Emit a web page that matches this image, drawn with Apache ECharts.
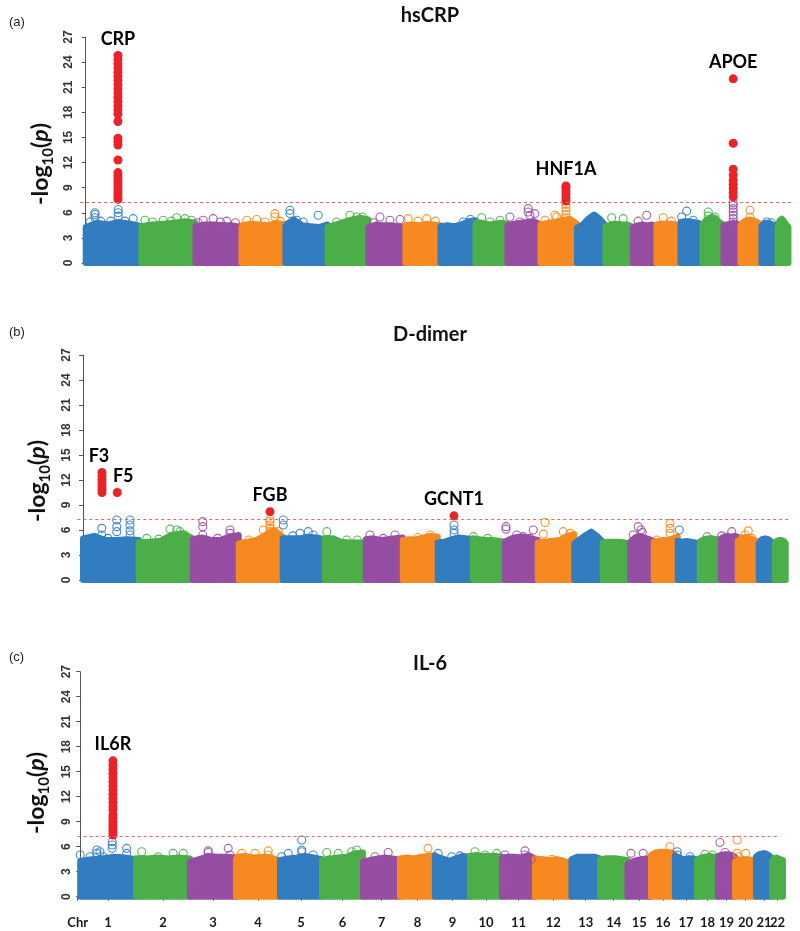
<!DOCTYPE html>
<html><head><meta charset="utf-8">
<script src="https://cdn.jsdelivr.net/npm/echarts@6/dist/echarts.min.js"></script>
<style>html,body{margin:0;padding:0;background:#fff}#c{width:800px;height:931px}</style>
</head><body><div id="c"></div>
<script>
// ---------------- data ----------------
const chrNames = ['1','2','3','4','5','6','7','8','9','10','11','12','13','14','15','16','17','18','19','20','21','22'];
// plotted extent of each chromosome (Mb)
const chrLenMb = [223,216,184,176,168,164,148,140,140,128,132,146,114,110,94,96,88,84,68,84,64,44];
const yTicks = [0,3,6,9,12,15,18,21,24,27];
const sigLine = 7.3;

// top of the dense bulk of SNPs, sampled evenly across each chromosome (-log10 p)
const envA = [
 [4.3,4.8,4.6,4.9,4.7,4.4],[4.4,4.6,4.7,4.8,5.0,4.8],[4.4,4.6,4.6,4.5,4.5,4.3],[4.5,4.7,4.6,4.5,4.8,4.6],
 [4.6,5.2,4.5,4.4,4.3,4.6],[4.3,4.6,4.9,5.2,5.4,5.2],[4.3,4.6,4.5,4.5,4.4,4.3],[4.5,4.6,4.5,4.7,4.6,4.5],
 [4.4,4.5,4.4,4.6,5.0,5.1],[4.9,4.8,4.6,4.7,4.8,4.7],[4.5,4.7,4.8,4.9,5.0,4.6],[4.6,4.8,4.9,5.1,5.3,4.7],
 [4.2,4.6,5.3,5.8,5.3,4.5],[4.4,4.6,4.7,4.6,4.6,4.3],[4.3,4.5,4.6,4.5,4.6,4.4],[4.6,4.7,4.7,4.7,4.6,4.5],
 [4.9,5.0,5.0,4.9,4.8,4.6],[4.6,5.2,5.5,5.4,4.9,4.6],[4.5,4.6,4.7,4.8,4.7,4.5],[4.6,5.0,5.2,5.1,4.9,4.6],
 [4.4,4.8,4.8,4.7,4.5,4.2],[4.4,5.1,5.3,5.0,4.6,4.3]
];
const envB = [
 [5.0,5.3,4.8,4.8,4.9,4.8],[4.5,4.6,4.7,5.4,5.6,5.0],[4.9,5.1,4.8,4.8,5.2,5.4],[4.4,4.6,4.8,5.4,6.0,5.2],
 [5.0,5.0,5.0,5.2,5.1,4.9],[5.0,5.0,4.6,4.5,4.5,4.5],[4.9,5.0,4.8,4.9,5.0,5.1],[4.8,4.9,4.9,5.1,5.3,5.2],
 [4.5,4.6,4.9,5.1,5.0,4.9],[5.0,4.9,4.8,4.8,4.7,4.6],[4.6,5.0,5.2,5.2,5.0,4.8],[4.5,4.6,4.7,4.8,5.3,5.5],
 [4.4,4.9,5.4,5.8,5.3,4.6],[4.5,4.6,4.6,4.6,4.5,4.3],[4.6,5.1,5.3,5.1,4.9,4.7],[4.6,4.7,4.8,4.8,5.0,5.2],
 [4.7,4.6,4.7,4.6,4.5,4.4],[4.6,4.9,5.0,5.0,4.9,4.6],[5.0,5.2,5.3,5.2,5.3,5.2],[4.7,5.0,5.2,5.0,4.8,4.6],
 [4.4,4.9,5.0,4.9,4.6,4.3],[4.4,4.7,4.8,4.8,4.7,4.4]
];
const envC = [
 [4.3,4.5,4.6,4.8,4.7,4.5],[4.6,4.6,4.7,4.6,4.7,4.6],[4.2,4.5,4.9,4.8,4.8,4.7],[4.8,4.9,4.7,4.8,4.7,4.3],
 [4.4,4.6,4.7,4.9,4.7,4.5],[4.4,4.6,4.7,4.8,5.2,5.3],[4.2,4.4,4.6,4.7,4.6,4.4],[4.6,4.7,4.6,4.8,4.9,5.0],
 [4.9,4.6,4.3,4.6,4.9,4.8],[4.9,5.0,4.9,4.9,4.9,4.8],[4.7,4.8,4.8,4.7,5.0,4.6],[4.6,4.5,4.4,4.5,4.3,4.0],
 [4.5,4.8,4.8,4.8,4.8,4.6],[4.5,4.6,4.6,4.6,4.5,4.4],[3.9,4.2,4.4,4.5,4.6,4.5],[5.0,5.3,5.4,5.4,5.3,5.1],
 [4.9,4.7,4.5,4.6,4.6,4.5],[4.5,4.7,4.8,4.9,4.8,4.7],[4.9,5.0,5.1,5.1,5.0,4.8],[4.2,4.4,4.5,4.5,4.4,4.3],
 [4.8,5.1,5.2,5.2,5.0,4.6],[4.3,4.6,4.7,4.6,4.5,4.4]
];

// individual SNPs standing above the bulk: [chromosome, position in chromosome (Mb), -log10 p]
const ringsA = [
 [1,17,4.9],[1,37,5.4],[1,37,5.8],[1,37,6.0],[1,60,5.0],[1,100,5.0],[1,130,5.6],[1,130,6.0],[1,130,6.4],[1,157,5.0],[1,190,5.3],
 [2,14,5.1],[2,45,4.9],[2,87,5.1],[2,120,5.0],[2,141,5.4],[2,174,5.3],[2,200,5.1],
 [3,10,4.8],[3,31,5.1],[3,71,5.3],[3,100,4.9],[3,125,5.0],[3,160,4.8],
 [4,21,5.1],[4,61,5.2],[4,95,4.9],[4,134,5.5],[4,134,5.9],[4,155,5.0],
 [5,18,5.9],[5,18,6.3],[5,45,5.1],[5,71,4.9],[5,131,5.7],
 [6,37,4.9],[6,90,5.7],[6,117,5.5],[6,140,5.5],
 [7,20,4.8],[7,46,5.5],[7,86,5.1],[7,126,5.2],
 [8,11,5.3],[8,50,5.0],[8,85,5.3],[8,120,5.0],
 [9,91,4.9],[9,120,5.2],
 [10,25,5.4],[10,58,4.9],[10,98,5.1],
 [11,10,5.5],[11,50,4.9],[11,83,6.1],[11,83,6.5],[11,90,5.7],[11,110,5.9],
 [12,18,5.1],[12,58,5.7],[12,65,5.5],[12,102,5.4],[12,102,5.8],[12,102,6.2],[12,102,6.6],[12,102,7.0],
 [14,25,5.4],[14,71,5.3],
 [15,21,5.0],[15,55,5.7],
 [16,27,5.4],[16,60,5.0],
 [17,5,5.5],[17,25,6.2],[17,51,5.1],
 [18,23,5.6],[18,23,6.1],[18,50,5.5],
 [19,39,4.9],[19,39,5.3],[19,39,5.7],[19,39,6.1],[19,39,6.5],[19,39,6.9],[19,39,7.2],
 [20,38,5.5],[20,38,6.3],
 [21,21,4.9],[21,40,4.8]
];
const ringsB = [
 [1,75,5.4],[1,75,6.2],[1,100,5.0],[1,135,5.8],[1,135,6.4],[1,135,7.2],[1,188,5.4],[1,188,5.9],[1,188,6.6],[1,188,7.2],
 [2,32,5.0],[2,80,4.9],[2,125,6.1],[2,152,6.0],[2,165,5.8],[2,185,5.4],
 [3,40,5.4],[3,40,6.4],[3,40,7.0],[3,100,5.0],[3,149,5.6],[3,149,6.0],
 [4,40,4.8],[4,98,6.0],[4,125,5.8],[4,125,6.2],[4,125,6.6],[4,125,7.0],[4,125,7.3],[4,158,5.8],
 [5,2,6.6],[5,2,7.2],[5,40,5.3],[5,69,5.6],[5,102,5.8],[5,122,5.4],
 [6,8,5.8],[6,88,4.8],[6,130,4.8],
 [7,17,5.4],[7,70,5.0],[7,117,5.4],
 [8,60,5.1],[8,110,5.4],
 [9,65,5.6],[9,65,6.0],[9,65,6.6],
 [10,2,5.2],[10,60,5.0],
 [11,5,6.1],[11,5,6.4],[11,48,5.4],[11,74,5.2],[11,101,5.0],[11,114,6.0],
 [12,22,5.5],[12,29,6.9],[12,102,5.8],[12,130,5.6],
 [15,12,5.4],[15,32,6.4],[15,43,6.0],[15,48,5.7],
 [16,12,4.8],[16,65,5.6],[16,65,6.2],[16,65,6.8],
 [17,6,6.0],
 [18,30,5.2],
 [19,4,5.3],[19,44,5.8],
 [20,16,4.9],[20,29,5.4],[20,42,5.9],[20,56,5.0]
];
const ringsC = [
 [1,0,5.0],[1,40,4.8],[1,66,5.2],[1,66,5.6],[1,79,5.4],[1,92,4.8],[1,128,5.8],[1,128,6.2],[1,128,6.6],[1,152,4.6],[1,186,5.2],[1,186,5.8],
 [2,23,5.4],[2,89,4.8],[2,149,5.2],[2,189,5.2],
 [3,73,5.3],[3,73,5.5],[3,153,5.8],[3,160,5.0],
 [4,23,5.2],[4,76,5.2],[4,129,5.0],[4,129,5.5],
 [5,7,4.8],[5,33,5.2],[5,87,5.4],[5,87,5.6],[5,87,6.8],[5,133,5.0],
 [6,19,5.3],[6,65,5.2],[6,119,5.4],[6,139,5.6],
 [7,48,4.8],[7,101,5.3],
 [8,112,5.8],
 [9,13,5.2],[9,67,4.8],[9,100,4.9],
 [10,20,5.4],[10,60,5.0],[10,107,5.2],
 [11,12,5.0],[11,92,5.0],[11,92,5.5],[11,116,4.5],
 [12,67,4.5],
 [15,14,5.2],[15,63,5.2],
 [16,76,6.0],
 [17,9,5.0],[17,9,5.4],[17,60,4.8],
 [18,32,5.1],[18,61,5.0],
 [19,8,6.5],[19,28,5.3],
 [20,9,5.2],[20,9,6.8],[20,13,4.8],[20,43,5.2]
];

// genome-wide significant loci: [gene, chromosome, position (Mb), -log10 p values]
const sigA = [
 ['CRP',1,129,[7.6,8.0,8.4,8.8,9.2,9.6,10.0,10.4,10.8,12.3,14.1,14.5,14.9,16.9,17.8,18.3,18.8,19.3,19.8,20.3,20.8,21.3,21.8,22.3,22.8,23.3,23.8,24.3,24.8]],
 ['HNF1A',12,102,[7.4,7.8,8.2,8.6,9.0,9.2]],
 ['APOE',19,39,[7.9,8.4,8.9,9.4,9.9,10.5,11.2,14.3,22.0]]
];
const sigB = [
 ['F3',1,76,[10.5,10.9,11.3,11.7,12.1,12.5,12.9]],
 ['F5',1,137,[10.5]],
 ['FGB',4,125,[8.2]],
 ['GCNT1',9,65,[7.7]]
];
const sigC = [
 ['IL6R',1,131,[7.4,7.8,8.2,8.6,9.0,9.4,9.8,10.4,10.8,11.3,11.8,12.3,12.8,13.3,13.8,14.3,14.8,15.3,15.8,16.3]]
];

const panelTitles = ['hsCRP','D-dimer','IL-6'];
const panelTags = ['(a)','(b)','(c)'];

// ---------------- style / layout ----------------
const palette = ['#327CC0','#4BAE49','#964EA2','#F6891F'];
const sigColor = '#EA2328';
const PX_PER_MB = 0.25;
const panels = [
  {left:80,   top:37,    height:226, xmin:-22.8, xmax:2821, tagTop:11,  titleTop:1,   nameX:41, nameY:164},
  {left:77.3, top:355,   height:225, xmin:-22.8, xmax:2832, tagTop:321, titleTop:320, nameX:38, nameY:481},
  {left:77.7, top:671.7, height:225, xmin:-10,   xmax:null, tagTop:646, titleTop:649, nameX:37, nameY:793}
];
const labelOffsets = {F3:[-3,0], F5:[6,0]};

const chrStart = [];
let acc = 0;
chrLenMb.forEach(l => { chrStart.push(acc); acc += l; });
const chrCenters = chrLenMb.map((l,i) => chrStart[i] + l/2);
panels[2].xmax = chrCenters[21];
const colorOf = chr => palette[(chr-1) % 4];

const envs = [envA, envB, envC];
const ringsAll = [ringsA, ringsB, ringsC];
const sigAll = [sigA, sigB, sigC];

const grids = [], xAxes = [], yAxes = [], series = [], titles = [], graphics = [];
const tickValues = [panels[2].xmin].concat(chrCenters);
const tickText = new Map();
tickText.set(panels[2].xmin, 'Chr');
chrCenters.forEach((c,i) => tickText.set(c, chrNames[i]));
// labels split over two overlaid axes so that close neighbours (19..22) are never auto-hidden
const labelsEven = tickValues.filter((v,i) => i % 2 === 0);
const labelsOdd = tickValues.filter((v,i) => i % 2 === 1);
const xLabelStyle = {margin:10, showMinLabel:true, showMaxLabel:true, hideOverlap:false,
  fontFamily:'Lato', fontWeight:'bold', fontSize:13, color:'#1a1a1a',
  formatter: v => tickText.has(v) ? tickText.get(v) : ''};

const nameRich = {
  a:{fontFamily:'Lato', fontWeight:'bold', fontSize:23, fill:'#111', lineHeight:30},
  b:{fontFamily:'Lato', fontWeight:'bold', fontSize:15, fill:'#111', lineHeight:16, verticalAlign:'bottom'},
  c:{fontFamily:'Lato', fontWeight:'bold', fontStyle:'italic', fontSize:23, fill:'#111', lineHeight:30}
};

panels.forEach((p, k) => {
  grids.push({left:p.left, top:p.top, height:p.height, width:(p.xmax - p.xmin) * PX_PER_MB, containLabel:false});
  const isBottom = k === 2;
  xAxes.push({
    type:'value', gridIndex:k, position:'bottom', min:p.xmin, max:p.xmax, show:isBottom, offset:10,
    splitLine:{show:false},
    axisLine:{show:isBottom, lineStyle:{color:'#555', width:1}},
    axisTick:{show:isBottom, length:4, lineStyle:{color:'#555'}, customValues:tickValues},
    axisLabel:Object.assign({show:isBottom, customValues:labelsEven}, xLabelStyle)
  });
  yAxes.push({
    type:'value', gridIndex:k, min:yTicks[0], max:yTicks[yTicks.length-1], interval:yTicks[1]-yTicks[0],
    splitLine:{show:false},
    axisLine:{show:true, lineStyle:{color:'#555', width:1}},
    axisTick:{show:true, length:4, lineStyle:{color:'#555'}},
    axisLabel:{rotate:90, margin:5, fontSize:12, fontWeight:'bold', color:'#333', fontFamily:'Liberation Sans'}
  });
  graphics.push({type:'text', x:p.nameX, y:p.nameY, rotation:Math.PI/2, silent:true,
    style:{text:'{a|-log}{b|10}{a|(}{c|p}{a|)}', rich:nameRich, align:'center', verticalAlign:'middle'}});
  titles.push({text:panelTitles[k], left:425, top:p.titleTop, textAlign:'center',
    textStyle:{fontFamily:'Lato', fontWeight:'bold', fontSize:20, color:'#111'}});
  titles.push({text:panelTags[k], left:4, top:p.tagTop,
    textStyle:{fontFamily:'Liberation Sans', fontWeight:'normal', fontSize:13, color:'#222'}});

  const env = envs[k];
  // dense bulk of SNPs per chromosome
  series.push({
    type:'custom', xAxisIndex:k, yAxisIndex:k, silent:true, z:1,
    data: env.map((e,i) => [chrStart[i], 0, i]),
    renderItem: (params, api) => {
      const i = api.value(2);
      const e = env[i], st = chrStart[i], len = chrLenMb[i];
      const pts = [api.coord([st, 0])];
      e.forEach((h, j) => pts.push(api.coord([st + len * j / (e.length - 1), h])));
      pts.push(api.coord([st + len, 0]));
      const col = colorOf(i + 1);
      return {type:'polygon', shape:{points:pts},
        style:{fill:col, stroke:col, lineWidth:6, lineJoin:'round'}};
    }
  });
  // open circles above the bulk
  series.push({
    type:'scatter', xAxisIndex:k, yAxisIndex:k, silent:true, z:2, symbol:'circle', symbolSize:8, clip:false,
    data: ringsAll[k].map(r => ({value:[chrStart[r[0]-1] + r[1], r[2]],
      itemStyle:{color:'rgba(255,255,255,0)', borderColor:colorOf(r[0]), borderWidth:1.1, opacity:0.9}}))
  });
  // significant SNPs
  const sd = [];
  sigAll[k].forEach(g => {
    const top = Math.max(...g[3]);
    g[3].forEach(v => {
      const item = {value:[chrStart[g[1]-1] + g[2], v]};
      if (v === top) item.label = {show:true, formatter:g[0], position:'top', distance:3,
        offset: labelOffsets[g[0]] || [0,0],
        fontFamily:'Lato', fontWeight:'bold', fontSize:18, color:'#000'};
      sd.push(item);
    });
  });
  series.push({
    type:'scatter', xAxisIndex:k, yAxisIndex:k, silent:true, z:3, symbol:'circle', symbolSize:9, clip:false,
    itemStyle:{color:sigColor, opacity:1},
    data: sd,
    markLine:{silent:true, symbol:'none', label:{show:false},
      lineStyle:{type:[3,3], color:'#E2646B', width:1},
      data:[{yAxis:sigLine}]}
  });
});
// second, label-only x axis on the bottom panel (odd-positioned labels)
xAxes.push({
  type:'value', gridIndex:2, position:'bottom', min:panels[2].xmin, max:panels[2].xmax, offset:10,
  splitLine:{show:false}, axisLine:{show:false}, axisTick:{show:false},
  axisLabel:Object.assign({show:true, customValues:labelsOdd}, xLabelStyle)
});

const chart = echarts.init(document.getElementById('c'), null, {renderer:'canvas'});
chart.setOption({
  animation:false,
  backgroundColor:'#fff',
  title:titles,
  graphic:graphics,
  grid:grids, xAxis:xAxes, yAxis:yAxes, series:series
});
</script>
</body></html>
